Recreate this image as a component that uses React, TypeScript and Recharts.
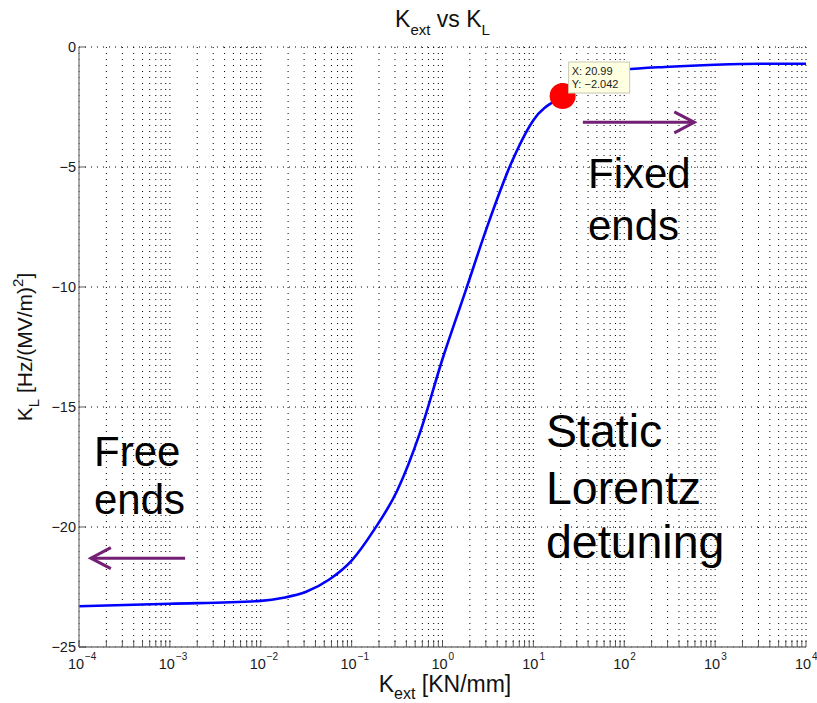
import React from "react";
import { LineChart, Line, XAxis, YAxis, CartesianGrid, ReferenceDot, ReferenceLine } from "recharts";

// K_ext [KN/mm] vs K_L [Hz/(MV/m)^2]
const kExt = [1e-4, 1e-3, 1e-2, 0.0178, 0.0316, 0.0562, 0.1, 0.178, 0.316, 0.562, 1, 1.78, 3.16, 5.62, 10, 20.99, 31.6, 56.2, 100, 316, 1000, 3160, 10000];
const kL = [-23.3, -23.2, -23.08, -22.95, -22.7, -22.2, -21.4, -20.1, -18.5, -16.1, -13.0, -10.2, -7.4, -4.9, -3.05, -2.042, -1.6, -1.2, -0.95, -0.82, -0.74, -0.7, -0.7];

// datatip point
const tipX = 20.99;
const tipY = -2.042;

// axes
const xDecades = [1e-4, 1e-3, 1e-2, 1e-1, 1, 10, 100, 1000, 10000];
const xExponents = ["−4", "−3", "−2", "−1", "0", "1", "2", "3", "4"];
const minorSteps = [1, 2, 3, 4, 5, 6, 7, 8, 9];
const yTicks = [-25, -20, -15, -10, -5, 0];
const yTickLabels = ["−25", "−20", "−15", "−10", "−5", "0"];

// arrow annotations (data coords)
const fixedArrow = { from: 35, to: 590, y: -3.14 };
const freeArrow = { from: 1.47e-3, to: 1.35e-4, y: -21.3 };

const xTicks = xDecades
  .slice(0, -1)
  .flatMap((d) => minorSteps.map((m) => +(m * d).toPrecision(3)))
  .concat([xDecades[xDecades.length - 1]]);

const data = kExt.map((x, i) => ({ x, y: kL[i] }));

const W = 817;
const H = 703;
const font = "'Liberation Sans', Arial, Helvetica, sans-serif";
const purple = "#731f73";
const boxColor = "#7a7a7a";
const tickColor = "#333";
const TL = 7;

const decadeIndex = (v: number) => xDecades.findIndex((d) => Math.abs(Math.log10(v) - Math.log10(d)) < 1e-6);

function BottomTick({ x, y, payload }: any) {
  const i = decadeIndex(payload.value);
  return (
    <g>
      <line x1={x} y1={y} x2={x} y2={y - TL} stroke={tickColor} strokeWidth={0.8} />
      {i >= 0 && (
        <g fontFamily={font} fill="#1a1a1a">
          <text x={x - 3} y={y + 22} fontSize={14.5} textAnchor="middle">10</text>
          <text x={x + 6} y={y + 13} fontSize={10} textAnchor="start">{xExponents[i]}</text>
        </g>
      )}
    </g>
  );
}

function TopTick({ x, y }: any) {
  return <line x1={x} y1={y} x2={x} y2={y + TL} stroke={tickColor} strokeWidth={0.8} />;
}

function LeftTick({ x, y, payload }: any) {
  const i = yTicks.indexOf(payload.value);
  return (
    <g>
      <line x1={x} y1={y} x2={x + TL} y2={y} stroke={tickColor} strokeWidth={0.8} />
      <text x={x - 3} y={y + 5} fontSize={14.5} fontFamily={font} fill="#1a1a1a" textAnchor="end">
        {yTickLabels[i]}
      </text>
    </g>
  );
}

function RightTick({ x, y }: any) {
  return <line x1={x} y1={y} x2={x - TL} y2={y} stroke={tickColor} strokeWidth={0.8} />;
}

function ArrowShape(p: any) {
  const { x1, y1, x2, y2 } = p;
  const dir = Math.sign(x2 - x1);
  return (
    <g>
      <line x1={x1} y1={y1} x2={x2} y2={y2} stroke={purple} strokeWidth={3} />
      <polyline
        points={`${x2 - dir * 20},${y2 - 10.5} ${x2},${y2} ${x2 - dir * 20},${y2 + 10.5}`}
        fill="none"
        stroke={purple}
        strokeWidth={3}
      />
    </g>
  );
}

function DataTip({ viewBox }: any) {
  const cx = viewBox.x + viewBox.width / 2;
  const cy = viewBox.y + viewBox.height / 2;
  return (
    <g fontFamily={font} fontSize={11} fill="#222">
      <rect x={cx + 6} y={cy - 34} width={61} height={31} fill="#ffffe1" stroke="#c8c8b4" strokeWidth={1} />
      <text x={cx + 9} y={cy - 21}>X: {tipX}</text>
      <text x={cx + 9} y={cy - 8}>Y: {String(tipY).replace("-", "−")}</text>
    </g>
  );
}

export default function App() {
  return (
    <div style={{ position: "absolute", left: 0, top: 0, width: W, height: H, background: "#fff" }}>
      <LineChart width={W} height={H} data={data} margin={{ top: 47, right: 11, bottom: 0, left: 0 }}>
        <CartesianGrid stroke="#000" strokeWidth={1} strokeDasharray="1 5" />
        <XAxis
          dataKey="x"
          type="number"
          scale="log"
          domain={[1e-4, 1e4]}
          allowDataOverflow
          ticks={xTicks}
          interval={0}
          height={56}
          tickSize={0}
          tickMargin={0}
          tickLine={false}
          axisLine={{ stroke: boxColor, strokeWidth: 1.3 }}
          tick={<BottomTick />}
        />
        <XAxis
          xAxisId="top"
          orientation="top"
          dataKey="x"
          type="number"
          scale="log"
          domain={[1e-4, 1e4]}
          allowDataOverflow
          ticks={xTicks}
          interval={0}
          height={0}
          tickSize={0}
          tickMargin={0}
          tickLine={false}
          axisLine={{ stroke: boxColor, strokeWidth: 1.3 }}
          tick={<TopTick />}
        />
        <YAxis
          type="number"
          domain={[-25, 0]}
          ticks={yTicks}
          interval={0}
          width={79}
          tickSize={0}
          tickMargin={0}
          tickLine={false}
          axisLine={{ stroke: boxColor, strokeWidth: 1.3 }}
          tick={<LeftTick />}
        />
        <YAxis
          yAxisId="right"
          orientation="right"
          type="number"
          domain={[-25, 0]}
          ticks={yTicks}
          interval={0}
          width={0}
          tickSize={0}
          tickMargin={0}
          tickLine={false}
          axisLine={{ stroke: boxColor, strokeWidth: 1.3 }}
          tick={<RightTick />}
        />
        <Line
          type="monotone"
          dataKey="y"
          stroke="#0000ff"
          strokeWidth={2.6}
          dot={false}
          activeDot={false}
          isAnimationActive={false}
        />
        <ReferenceLine
          segment={[{ x: fixedArrow.from, y: fixedArrow.y }, { x: fixedArrow.to, y: fixedArrow.y }]}
          shape={<ArrowShape />}
        />
        <ReferenceLine
          segment={[{ x: freeArrow.from, y: freeArrow.y }, { x: freeArrow.to, y: freeArrow.y }]}
          shape={<ArrowShape />}
        />
        <ReferenceDot x={tipX} y={tipY} r={13} fill="#ff0000" stroke="none" label={<DataTip />} />
      </LineChart>

      <svg width={W} height={H} style={{ position: "absolute", left: 0, top: 0, pointerEvents: "none" }} fontFamily={font}>
        <text x={442.5} y={27} fontSize={23} textAnchor="middle" fill="#111">
          K<tspan fontSize={15} dy={8}>ext</tspan>
          <tspan dy={-8}> vs K</tspan>
          <tspan fontSize={15} dy={8}>L</tspan>
        </text>
        <text x={445} y={692} fontSize={23} textAnchor="middle" fill="#111">
          K<tspan fontSize={16} dy={7}>ext</tspan>
          <tspan dy={-7}> [KN/mm]</tspan>
        </text>
        <text transform="translate(32,347) rotate(-90)" fontSize={21} textAnchor="middle" fill="#111">
          K<tspan fontSize={15} dy={7}>L</tspan>
          <tspan dy={-7}> [Hz/(MV/m)</tspan>
          <tspan fontSize={15} dy={-9}>2</tspan>
          <tspan dy={9}>]</tspan>
        </text>

        <g fontSize={42} fill="#000">
          <text x={588} y={188}>Fixed</text>
          <text x={588} y={240}>ends</text>
          <text x={94} y={466}>Free</text>
          <text x={94} y={514}>ends</text>
        </g>
        <g fontSize={46.5} fill="#000">
          <text x={546} y={447}>Static</text>
          <text x={546} y={504}>Lorentz</text>
          <text x={546} y={558}>detuning</text>
        </g>
      </svg>
    </div>
  );
}
